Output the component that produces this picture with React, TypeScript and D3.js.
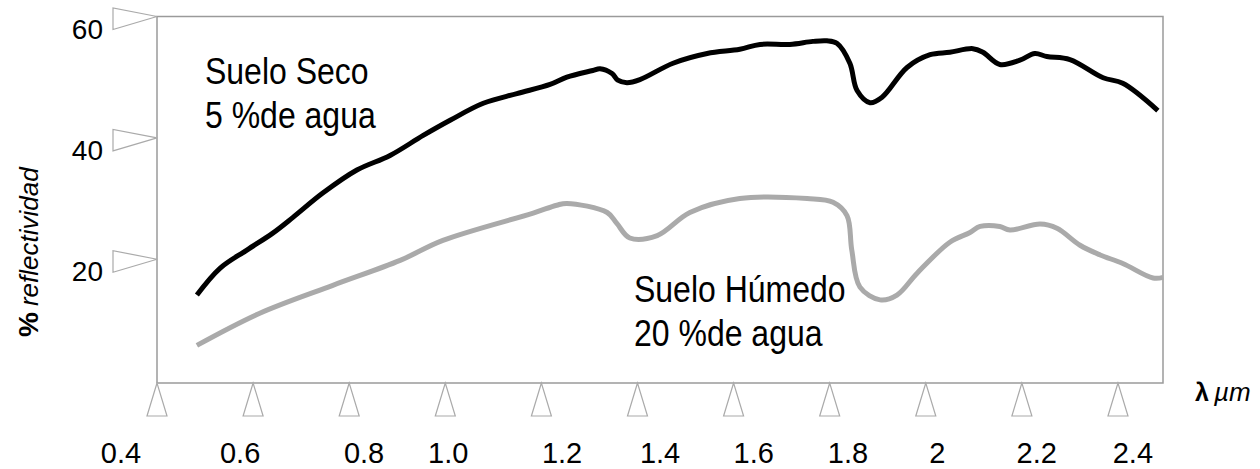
import React from 'react';
import * as d3 from 'd3';

// wavelength (µm) and reflectance (%)
const dryWl = [0.483, 0.531, 0.587, 0.641, 0.683, 0.745, 0.816, 0.885, 0.954, 1.01, 1.079, 1.149, 1.218, 1.253, 1.307, 1.322, 1.347, 1.359, 1.378, 1.405, 1.474, 1.545, 1.613, 1.655, 1.717, 1.765, 1.794, 1.815, 1.842, 1.857, 1.884, 1.909, 1.961, 2.009, 2.05, 2.098, 2.119, 2.154, 2.196, 2.227, 2.252, 2.3, 2.369, 2.41, 2.483];
const dryRefl = [14.1, 18.5, 21.5, 24.3, 26.9, 30.9, 34.7, 37.1, 40.4, 42.9, 45.7, 47.3, 48.8, 50.0, 51.1, 51.4, 50.6, 49.5, 49.1, 49.6, 52.3, 53.9, 54.6, 55.4, 55.4, 55.9, 56.0, 55.6, 52.3, 47.8, 45.8, 46.7, 51.6, 53.7, 54.1, 54.7, 54.1, 52.1, 52.8, 53.9, 53.4, 52.9, 49.9, 49.0, 44.5];

const wetWl = [0.483, 0.614, 0.766, 0.906, 0.995, 1.183, 1.232, 1.253, 1.337, 1.357, 1.384, 1.441, 1.509, 1.613, 1.753, 1.807, 1.836, 1.846, 1.863, 1.905, 1.94, 1.982, 2.05, 2.092, 2.113, 2.154, 2.175, 2.238, 2.273, 2.321, 2.363, 2.41, 2.473, 2.494];
const wetRefl = [5.8, 11.1, 15.7, 19.8, 23.1, 27.6, 28.9, 29.2, 27.7, 25.9, 23.5, 23.9, 27.7, 30.0, 30.0, 29.4, 27.2, 21.5, 15.4, 13.3, 14.1, 17.7, 22.8, 24.4, 25.4, 25.4, 24.8, 25.8, 25.1, 22.3, 20.7, 19.3, 16.9, 17.0];

const xTicks = [0.4, 0.6, 0.8, 1.0, 1.2, 1.4, 1.6, 1.8, 2.0, 2.2, 2.4];
const xTickLabels = ['0.4', '0.6', '0.8', '1.0', '1.2', '1.4', '1.6', '1.8', '2', '2.2', '2.4'];
// the labels sit a bit off their ticks in the original
const xLabelAt = [0.325, 0.573, 0.831, 1.006, 1.243, 1.447, 1.642, 1.838, 2.024, 2.231, 2.431];
const yTicks = [20, 40, 60];

const font = '"Liberation Sans", Arial, sans-serif';

export default function App() {
  const width = 1260;
  const height = 469;

  const x = d3.scaleLinear().domain([0.4, 2.4937]).range([157, 1163]);
  const y = d3.scaleLinear().domain([-0.4, 60]).range([383, 16.5]);

  const line = d3.line<[number, number]>()
    .x(d => x(d[0]))
    .y(d => y(d[1]))
    .curve(d3.curveCatmullRom.alpha(0.5));

  const dry = line(dryWl.map((w, i) => [w, dryRefl[i]] as [number, number])) || '';
  const wet = line(wetWl.map((w, i) => [w, wetRefl[i]] as [number, number])) || '';

  const [x0, x1] = x.range();
  const [yb, yt] = y.range();

  return (
    <svg width={width} height={height} style={{ position: 'absolute', left: 0, top: 0 }} fontFamily={font}>
      <rect x={0} y={0} width={width} height={height} fill="#fff" />

      {/* frame */}
      <rect x={x0} y={yt} width={x1 - x0} height={yb - yt} fill="none" stroke="#9a9a9a" strokeWidth={1.5} />

      {/* y ticks: triangles pointing at the axis */}
      {yTicks.map(t => (
        <g key={t}>
          <polygon
            points={`${x0 - 44},${y(t) - 8.5} ${x0 - 44},${y(t) + 13} ${x0},${y(t)}`}
            fill="#fff" stroke="#aaa" strokeWidth={1.2} />
          <text x={103} y={y(t) + 22} fontSize={28} textAnchor="end" fill="#000">{t}</text>
        </g>
      ))}

      {/* x ticks */}
      {xTicks.map((t, i) => (
        <g key={t}>
          <polygon
            points={`${x(t)},${yb} ${x(t) - 10},${yb + 33} ${x(t) + 10},${yb + 33}`}
            fill="#fff" stroke="#aaa" strokeWidth={1.2} />
          <text x={x(xLabelAt[i])} y={463} fontSize={29} textAnchor="middle" fill="#000">
            {xTickLabels[i]}
          </text>
        </g>
      ))}

      {/* curves */}
      <path d={wet} fill="none" stroke="#aaaaaa" strokeWidth={5} />
      <path d={dry} fill="none" stroke="#000" strokeWidth={5} />

      {/* annotations */}
      <text transform="translate(205,84) scale(1,1.15)" fontSize={32} fill="#000">Suelo Seco</text>
      <text transform="translate(205,128) scale(1,1.15)" fontSize={32} fill="#000">5 %de agua</text>
      <text transform="translate(634,302) scale(1,1.15)" fontSize={32} fill="#000">Suelo Húmedo</text>
      <text transform="translate(634,346) scale(1,1.15)" fontSize={32} fill="#000">20 %de agua</text>

      {/* axis titles */}
      <text transform="translate(38,337) rotate(-90)" fill="#000">
        <tspan fontSize={28} fontWeight="bold">%</tspan>
        <tspan fontSize={26} fontStyle="italic" dx={6}>reflectividad</tspan>
      </text>
      <text x={1195} y={401} fill="#000">
        <tspan fontSize={25} fontWeight="bold">λ</tspan>
        <tspan fontSize={26} fontStyle="italic" dx={5}>µm</tspan>
      </text>
    </svg>
  );
}
